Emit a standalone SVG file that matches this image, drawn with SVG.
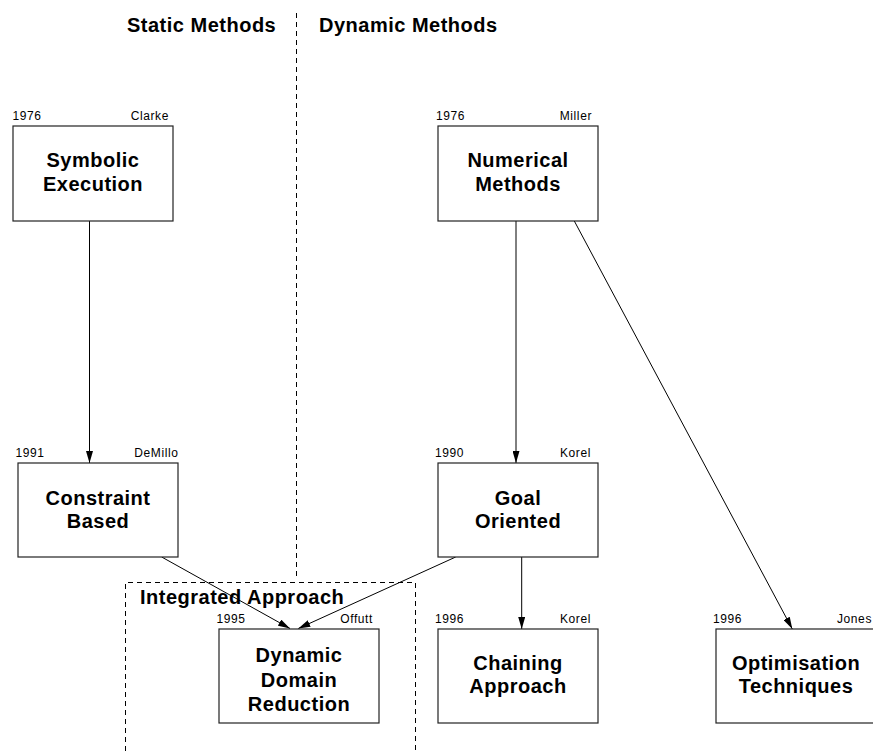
<svg xmlns="http://www.w3.org/2000/svg" width="873" height="754" viewBox="0 0 873 754">
<style>
.box{fill:#fff;stroke:#222;stroke-width:1.2}
.t{font-family:"Liberation Sans",Arial,sans-serif;font-weight:bold;font-size:20px;letter-spacing:0.5px;text-anchor:middle;fill:#000}
.h{font-family:"Liberation Sans",Arial,sans-serif;font-weight:bold;font-size:20px;letter-spacing:0.5px;fill:#000}
.s{font-family:"Liberation Sans",Arial,sans-serif;font-size:12px;letter-spacing:0.6px;fill:#000}
.r{text-anchor:end}
.e{stroke:#000;stroke-width:1;fill:none;marker-end:url(#ah)}
.d{stroke:#000;stroke-width:1;fill:none;stroke-dasharray:5 4}
</style>
<defs>
<marker id="ah" markerUnits="userSpaceOnUse" markerWidth="12" markerHeight="7" refX="12" refY="3.5" orient="auto">
<path d="M0,0 L12,3.5 L0,7 z" fill="#000"/>
</marker>
</defs>
<rect width="873" height="754" fill="#fff"/>
<g id="regions">
<line class="d" x1="296.5" y1="13" x2="296.5" y2="580"/>
<path class="d" d="M125.5,760 V582.5 H415.5 V760"/>
<text class="h" x="127" y="32">Static Methods</text>
<text class="h" x="319" y="32">Dynamic Methods</text>
<text class="h" x="140" y="604">Integrated Approach</text>
</g>
<g id="connectors">
<line class="e" x1="89.5" y1="221" x2="89.5" y2="463"/>
<line class="e" x1="516" y1="221" x2="516" y2="463"/>
<line class="e" x1="574.3" y1="221" x2="792.3" y2="629"/>
<line class="e" x1="521.7" y1="557" x2="521.7" y2="629"/>
<line class="e" x1="161.7" y1="557" x2="290" y2="628.5"/>
<line class="e" x1="455.7" y1="557" x2="298.3" y2="628.5"/>
</g>
<g id="symbolic">
<rect class="box" x="13" y="126" width="160" height="95"/>
<text class="s" x="12.5" y="120">1976</text>
<text class="s r" x="169" y="120">Clarke</text>
<text class="t" x="93" y="167">Symbolic</text>
<text class="t" x="93" y="191">Execution</text>
</g>
<g id="numerical">
<rect class="box" x="438" y="126" width="160" height="95"/>
<text class="s" x="436" y="120">1976</text>
<text class="s r" x="592" y="120">Miller</text>
<text class="t" x="518" y="167">Numerical</text>
<text class="t" x="518" y="191">Methods</text>
</g>
<g id="constraint">
<rect class="box" x="18" y="463" width="160" height="94"/>
<text class="s" x="15.5" y="457">1991</text>
<text class="s r" x="178.5" y="457">DeMillo</text>
<text class="t" x="98" y="505">Constraint</text>
<text class="t" x="98" y="528">Based</text>
</g>
<g id="goal">
<rect class="box" x="438" y="463" width="160" height="94"/>
<text class="s" x="435" y="457">1990</text>
<text class="s r" x="591" y="457">Korel</text>
<text class="t" x="518" y="505">Goal</text>
<text class="t" x="518" y="528">Oriented</text>
</g>
<g id="ddr">
<rect class="box" x="219" y="629" width="160" height="94"/>
<text class="s" x="216.5" y="623">1995</text>
<text class="s r" x="373" y="623">Offutt</text>
<text class="t" x="299" y="662">Dynamic</text>
<text class="t" x="299" y="687">Domain</text>
<text class="t" x="299" y="711">Reduction</text>
</g>
<g id="chaining">
<rect class="box" x="438" y="629" width="160" height="94"/>
<text class="s" x="435" y="623">1996</text>
<text class="s r" x="591" y="623">Korel</text>
<text class="t" x="518" y="670">Chaining</text>
<text class="t" x="518" y="693">Approach</text>
</g>
<g id="optimisation">
<rect class="box" x="716" y="629" width="160" height="94"/>
<text class="s" x="713" y="623">1996</text>
<text class="s r" x="872" y="623">Jones</text>
<text class="t" x="796" y="670">Optimisation</text>
<text class="t" x="796" y="693">Techniques</text>
</g>
</svg>
